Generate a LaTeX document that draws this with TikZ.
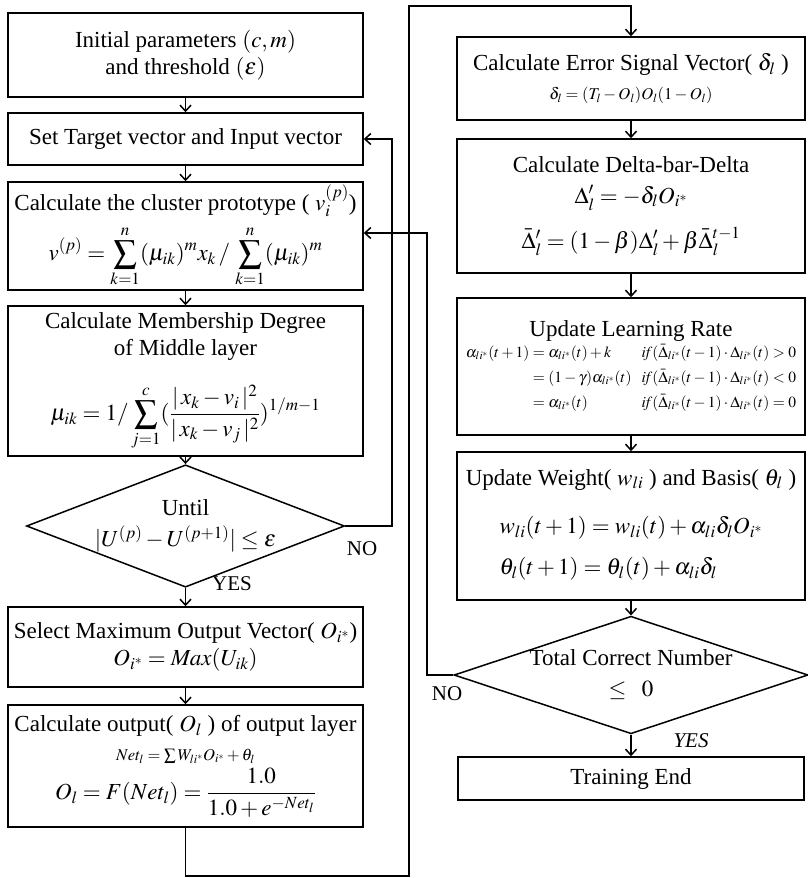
\documentclass[tikz,border=0pt]{standalone}
\usepackage{mathptmx}
\usepackage{fontspec}
\setmainfont{Liberation Serif}
\usetikzlibrary{shapes.geometric, arrows.meta, positioning}
\newcommand{\bigtext}{\fontsize{23}{27}\selectfont}
\newcommand{\lbltext}{\fontsize{21}{25}\selectfont}
\newcommand{\smalltext}{\fontsize{16.5}{20}\selectfont}
\newcommand{\ratetext}{\fontsize{15.5}{19}\selectfont}

\begin{document}
\begin{tikzpicture}[x=1pt, y=-1pt,
  proc/.style={draw, line width=1.5pt, minimum width=355pt, align=center, inner sep=2pt, font=\bigtext},
  rproc/.style={proc, minimum width=348pt},
  decide/.style={draw, diamond, line width=1.5pt, align=center, inner sep=0pt, font=\bigtext},
  flow/.style={line width=1.5pt, -{Straight Barb[length=6pt,width=11pt]}},
  lbl/.style={font=\lbltext, inner sep=0pt}]
\useasboundingbox (0,0) rectangle (808,878);

% left column
\node[proc, minimum height=84pt] (init) at (185.5,55) {Initial parameters $(c,m)$\\ and threshold $(\varepsilon)$};
\node[proc, minimum height=52pt] (target) at (185.5,139) {Set Target vector and Input vector};
\node[proc, minimum height=108pt] (proto) at (185.5,236) {Calculate the cluster prototype ( $v_i^{(p)}$)\\[8pt]
  $\displaystyle v^{(p)}=\sum_{k=1}^{n}(\mu_{ik})^m x_k \,/\, \sum_{k=1}^{n}(\mu_{ik})^m$};
\node[proc, minimum height=150pt] (member) at (185.5,381) {Calculate Membership Degree\\ of Middle layer\\[24pt]
  $\displaystyle \mu_{ik}=1/\sum_{j=1}^{c}(\frac{|\,x_k-v_i\,|^2}{|\,x_k-v_j\,|^2})^{1/m-1}$};
\node[decide, minimum width=302pt, minimum height=117pt, aspect=2.6] (until) at (185.5,526) {Until\\[4pt] $|U^{(p)}-U^{(p+1)}|\leq\varepsilon$};
\node[proc, minimum height=80pt] (select) at (185.5,647) {Select Maximum Output Vector( $O_{i^*}$)\\[0pt] $O_{i^*}=\mathit{Max}(U_{ik})$};
\node[proc, minimum height=122pt] (output) at (185.5,766) {Calculate output( $O_l$ ) of output layer\\[2pt]
  {\smalltext $Net_l=\sum W_{li^*}O_{i^*}+\theta_l$}\\[4pt]
  $\displaystyle O_l=F(Net_l)=\frac{1.0}{1.0+e^{-Net_l}}$};

% right column
\node[rproc, minimum height=83pt] (error) at (631,78.5) {Calculate Error Signal Vector( $\delta_l$ )\\[2pt]
  {\smalltext $\delta_l=(T_l-O_l)O_l(1-O_l)$}};
\node[rproc, minimum height=134pt] (dbd) at (631,206) {Calculate Delta-bar-Delta\\[4pt] $\Delta'_l=-\delta_l O_{i^*}$\\[16pt]
  $\bar{\Delta}'_l=(1-\beta)\Delta'_l+\beta\bar{\Delta}^{t-1}_l$};
\node[rproc, minimum height=137pt, inner sep=0pt] (lrate) at (631,366.5) {Update Learning Rate\\[2pt]
  {\ratetext $\begin{array}{@{}r@{}l@{\hspace{10pt}}l@{}}
  \alpha_{li^*}(t+1) & {}=\alpha_{li^*}(t)+k & \mathit{if}(\bar{\Delta}_{li^*}(t-1)\cdot\Delta_{li^*}(t)>0\\[6pt]
   & {}=(1-\gamma)\alpha_{li^*}(t) & \mathit{if}(\bar{\Delta}_{li^*}(t-1)\cdot\Delta_{li^*}(t)<0\\[6pt]
   & {}=\alpha_{li^*}(t) & \mathit{if}(\bar{\Delta}_{li^*}(t-1)\cdot\Delta_{li^*}(t)=0
  \end{array}$}};
\node[rproc, minimum height=148pt] (weight) at (631,526) {Update Weight( $w_{li}$ ) and Basis( $\theta_l$ )\\[24pt]
  $\begin{array}{@{}l@{}}
  w_{li}(t+1)=w_{li}(t)+\alpha_{li}\delta_l O_{i^*}\\[14pt]
  \theta_l(t+1)=\theta_l(t)+\alpha_{li}\delta_l
  \end{array}$};
\node[decide, minimum width=354pt, minimum height=116pt, aspect=3] (total) at (631,675) {Total Correct Number\\[4pt] $\leq\;\;0$};
\node[rproc, minimum width=346pt, minimum height=43pt] (finish) at (631,778.5) {Training End};

% labels
\node[lbl] (noL) at (362,549) {NO};
\node[lbl] (yesL) at (232,584) {YES};
\node[lbl] (noR) at (447,694) {NO};
\node[lbl, font=\lbltext\itshape] (yesR) at (691,741) {YES};

% channels
\coordinate (loopL) at (392,0);
\coordinate (loopR) at (427,0);
\coordinate (feedB) at (409,876);
\coordinate (feedT) at (409,6);

% connectors
\draw[flow] (init) -- (target);
\draw[flow] (target) -- (proto);
\draw[flow] (proto) -- (member);
\draw[flow] (member) -- (until);
\draw[flow] (until) -- (select);
\draw[flow] (select) -- (output);
\draw[flow] (until.east) -- (until.east -| loopL) |- (target.east);
\draw[flow] (output.south) |- (feedB) -- (feedT) -| (error.north);
\draw[flow] (error) -- (dbd);
\draw[flow] (dbd) -- (lrate);
\draw[flow] (lrate) -- (weight);
\draw[flow] (weight) -- (total);
\draw[flow] (total) -- (finish);
\draw[flow] (total.west) -- (total.west -| loopR) |- ([yshift=3pt]proto.east);
\end{tikzpicture}
\end{document}
